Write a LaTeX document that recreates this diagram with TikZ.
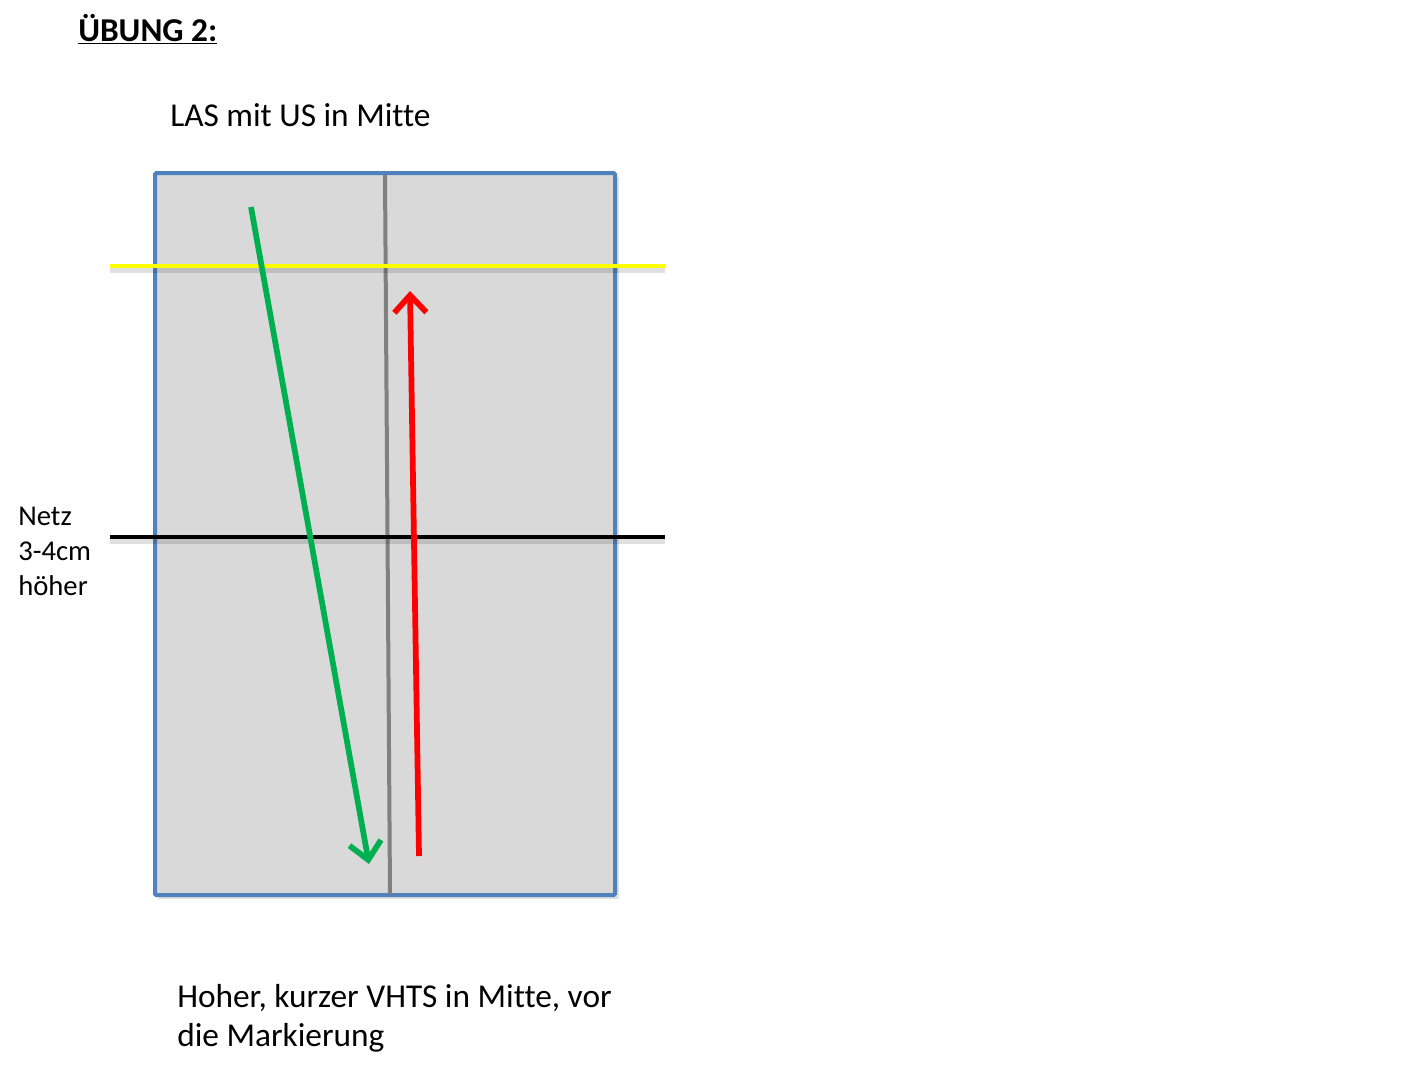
\documentclass[tikz,border=0pt]{standalone}
\usepackage{fontspec}
\setmainfont[Ligatures=CommonOff]{Carlito}
\usetikzlibrary{arrows.meta}
\definecolor{boxfill}{HTML}{D9D9D9}
\definecolor{boxedge}{HTML}{4F81BD}
\definecolor{midline}{HTML}{808080}
\definecolor{grn}{HTML}{00B050}
\definecolor{ylw}{HTML}{FFFF00}
\tikzset{
  lbl/.style={anchor=base west, inner sep=0pt, font=\fontsize{25}{30}\selectfont},
  sidelbl/.style={anchor=base west, inner sep=0pt, font=\fontsize{21.5}{26}\selectfont, align=left},
  shadowline/.style={draw=black, opacity=0.12, line width=4.5pt},
  arrowline/.style={line width=4.3pt, -{Straight Barb[length=13pt,width=24pt]}},
}
\begin{document}
\begin{tikzpicture}[x=0.75pt,y=-0.75pt]
\useasboundingbox (0,0) rectangle (1402,1076);
% title
\node[anchor=base west, inner sep=0pt, font=\fontsize{25}{30}\selectfont\bfseries] (title) at (78,41) {\underline{ÜBUNG 2:}};
\node[lbl] (las) at (170,126) {LAS mit US in Mitte};
% court
\fill[black, opacity=0.12] (158,177) rectangle (619,899);
\node[draw=boxedge, fill=boxfill, line width=3pt, minimum width=460*0.75pt, minimum height=722*0.75pt, inner sep=0pt, outer sep=0pt, anchor=north west, rounded corners=1pt] (court) at (155,173) {};
\coordinate (mtop) at (385,175);
\coordinate (mbot) at (390,894);
\draw[midline, line width=3pt] (mtop) -- (mbot);
% yellow line
\coordinate (yl) at (110,266);
\coordinate (yr) at (665,266);
\draw[shadowline] ([yshift=-3pt]yl) -- ([yshift=-3pt]yr);
\draw[ylw, line width=3.6pt] (yl) -- (yr);
% net
\coordinate (nl) at (110,537);
\coordinate (nr) at (665,537);
\draw[shadowline] ([yshift=-3pt]nl) -- ([yshift=-3pt]nr);
\draw[black, line width=3.2pt] (nl) -- (nr);
% arrows
\coordinate (gs) at (251,207);
\coordinate (ge) at (369,864);
\draw[grn, arrowline] (gs) -- (ge);
\coordinate (rs) at (419,856);
\coordinate (re) at (410,291);
\draw[red, arrowline] (rs) -- (re);
% labels
\node[sidelbl] (netz) at (18,525) {Netz};
\node[sidelbl] (cm) at (18,560) {3-4cm};
\node[sidelbl] (hoeher) at (18,595) {höher};
\node[lbl] (hoher1) at (177,1007) {Hoher, kurzer VHTS in Mitte, vor};
\node[lbl] (hoher2) at (177,1046) {die Markierung};
\end{tikzpicture}
\end{document}
